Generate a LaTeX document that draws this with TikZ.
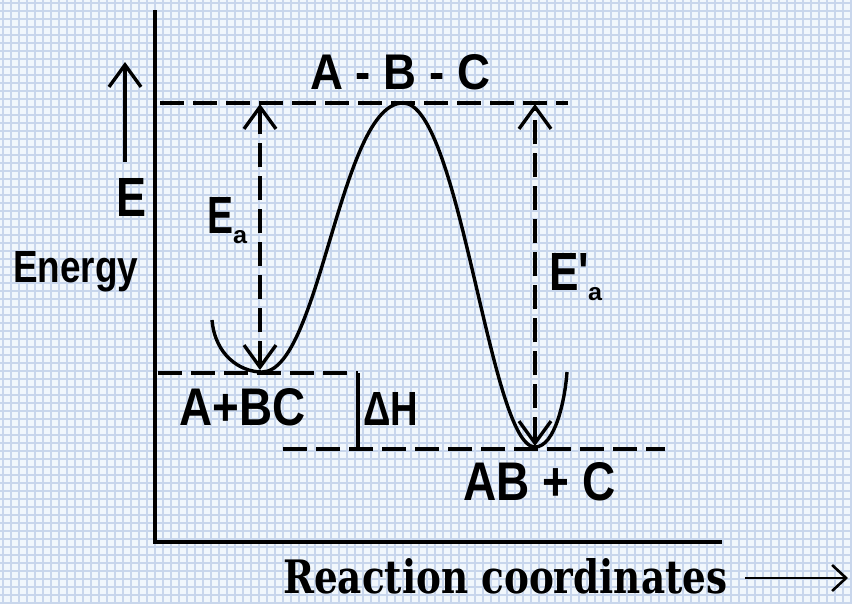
\documentclass[tikz,border=0pt]{standalone}
\usepackage{fontspec}
\setmainfont{Liberation Sans}
\newfontfamily\rcfont{DejaVu Serif}
\usetikzlibrary{arrows.meta}
\definecolor{bgc}{RGB}{241,247,252}
\definecolor{gridc}{RGB}{200,214,236}
\tikzset{
  gridline/.style={draw=gridc,line width=2.2pt},
  axisline/.style={line width=3.6pt,black},
  dline/.style={line width=3.6pt,dash pattern=on 24pt off 9pt},
  curveline/.style={line width=3.4pt},
  barb/.style={-{Straight Barb[length=22pt,width=32pt,line width=3.4pt]}},
  dbarb/.style={{Straight Barb[length=22pt,width=32pt,line width=3.4pt]}-{Straight Barb[length=22pt,width=32pt,line width=3.4pt]}},
  lbl/.style={inner sep=0pt,anchor=base west,font=\bfseries},
}
\begin{document}
\begin{tikzpicture}[x=1pt,y=-1pt]
\useasboundingbox (0,0) rectangle (852,603);
\fill[bgc] (0,0) rectangle (852,603);
\foreach \i in {3,11,...,852} \draw[gridline] (\i,0) -- (\i,603);
\foreach \j in {3,11,...,603} \draw[gridline] (0,\j) -- (852,\j);
% axes
\coordinate (ytop) at (155,10);
\coordinate (origin) at (155,542);
\coordinate (xend) at (722,542);
\draw[axisline] (ytop) -- (origin) -- (xend);
% energy arrow
\coordinate (ea0) at (125,162);
\coordinate (ea1) at (125,62);
\draw[axisline,barb] (ea0) -- (ea1);
% levels
\coordinate (t0) at (160,103); \coordinate (t1) at (568,103);
\coordinate (r0) at (158,373); \coordinate (r1) at (358,373);
\coordinate (p0) at (283,449); \coordinate (p1) at (665,449);
\coordinate (dhb) at (358,450);
\draw[dline] (t0) -- (t1);
\draw[dline] (r0) -- (r1);
\draw[dline] (p0) -- (p1);
\draw[axisline] (r1) -- (dhb);
% activation arrows
\coordinate (a0) at (260,370); \coordinate (a1) at (260,104);
\coordinate (b0) at (535,446); \coordinate (b1) at (535,104);
\draw[dline,dbarb] (a0) -- (a1);
\draw[dline,dbarb] (b0) -- (b1);
% energy curve
\draw[curveline] (212,320) .. controls (215,355) and (240,372) .. (262,372)
  .. controls (320,372) and (340,103) .. (403,103)
  .. controls (460,103) and (490,447) .. (535,447)
  .. controls (555,447) and (565,400) .. (567,372);
% labels
\node[lbl] (abc) at (310,89) {\resizebox{180pt}{35pt}{A - B - C}};
\node[lbl] (bigE) at (116,216) {\resizebox{30pt}{38pt}{E}};
\node[lbl] (energy) at (13,282) {\resizebox{125pt}{31pt}{Energy}};
\node[lbl] (eaE) at (207,233) {\resizebox{26pt}{36pt}{E}};
\node[lbl] (eaa) at (233,243) {\resizebox{14pt}{13pt}{a}};
\node[lbl] (ebE) at (549,290) {\resizebox{40pt}{37pt}{E\textquotesingle}};
\node[lbl] (eba) at (588,300) {\resizebox{14pt}{13pt}{a}};
\node[lbl] (abc2) at (179,425) {\resizebox{126pt}{37pt}{A+BC}};
\node[lbl] (dh) at (363,425) {\resizebox{55pt}{33pt}{ΔH}};
\node[lbl] (abpc) at (463,500) {\resizebox{152pt}{38pt}{AB + C}};
\node[lbl] (rc) at (283,593) {\resizebox{444pt}{35pt}{\rcfont\bfseries Reaction coordinates}};
\coordinate (rca0) at (745,578); \coordinate (rca1) at (848,578);
\draw[line width=2.6pt,-{Straight Barb[length=14pt,width=26pt,line width=2.6pt]}] (rca0) -- (rca1);
\end{tikzpicture}
\end{document}
